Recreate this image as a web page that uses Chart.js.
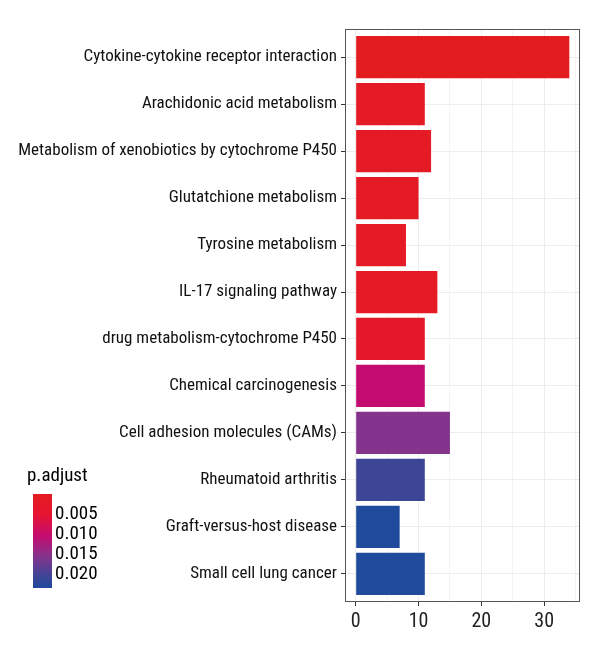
<!DOCTYPE html>
<html>
<head>
<meta charset="utf-8">
<script src="https://cdn.jsdelivr.net/npm/chart.js@4/dist/chart.umd.min.js"></script>
<style>
  html, body { margin: 0; padding: 0; background: #fff; }
  #wrap { width: 600px; height: 660px; position: relative; }
</style>
</head>
<body>
<div id="wrap"><canvas id="keggChart" width="600" height="660"></canvas></div>
<script>
// Data jalur KEGG (urutan dari atas ke bawah)
const pathways = [
  'Cytokine-cytokine receptor interaction',
  'Arachidonic acid metabolism',
  'Metabolism of xenobiotics by cytochrome P450',
  'Glutatchione metabolism',
  'Tyrosine metabolism',
  'IL-17 signaling pathway',
  'drug metabolism-cytochrome P450',
  'Chemical carcinogenesis',
  'Cell adhesion molecules (CAMs)',
  'Rheumatoid arthritis',
  'Graft-versus-host disease',
  'Small cell lung cancer'
];
const geneCounts = [34, 11, 12, 10, 8, 13, 11, 11, 15, 11, 7, 11];
const pAdjust = [0.0001, 0.0015, 0.0012, 0.0014, 0.0015, 0.0010, 0.0025, 0.0105, 0.0155, 0.0205, 0.0232, 0.0232];
const xTicks = [0, 10, 20, 30];
const legendTicks = [0.005, 0.010, 0.015, 0.020];

const FONT = '"Roboto Condensed", "DejaVu Sans Condensed", sans-serif';
const pMin = 0, pMax = 0.0233;

// Skala warna merah -> biru (mirip gradien ggplot)
const colorStops = [
  [0.00, [227, 28, 32]],
  [0.22, [230, 20, 50]],
  [0.45, [196, 12, 112]],
  [0.66, [134, 52, 140]],
  [0.86, [66, 68, 150]],
  [1.00, [31, 74, 155]]
];
function pColor(p) {
  const t = Math.min(1, Math.max(0, (p - pMin) / (pMax - pMin)));
  for (let i = 1; i < colorStops.length; i++) {
    if (t <= colorStops[i][0]) {
      const a = colorStops[i - 1], b = colorStops[i];
      const f = (t - a[0]) / (b[0] - a[0]);
      const c = a[1].map((v, k) => Math.round(v + (b[1][k] - v) * f));
      return `rgb(${c[0]},${c[1]},${c[2]})`;
    }
  }
  const c = colorStops[colorStops.length - 1][1];
  return `rgb(${c[0]},${c[1]},${c[2]})`;
}

// Border panel + legenda colorbar
const panelPlugin = {
  id: 'panel',
  afterDraw(chart) {
    const { ctx, chartArea: a } = chart;
    ctx.save();
    ctx.strokeStyle = '#555';
    ctx.lineWidth = 1;
    ctx.strokeRect(a.left + 0.5, a.top + 0.5, a.right - a.left - 1, a.bottom - a.top - 1);

    // colorbar
    const bx = 33, by = 494, bw = 19, bh = 94;
    const grad = ctx.createLinearGradient(0, by, 0, by + bh);
    for (let i = 0; i <= 20; i++) {
      grad.addColorStop(i / 20, pColor(pMin + (pMax - pMin) * i / 20));
    }
    ctx.fillStyle = grad;
    ctx.fillRect(bx, by, bw, bh);

    ctx.fillStyle = '#000';
    ctx.font = '19px ' + FONT;
    ctx.textBaseline = 'middle';
    ctx.textAlign = 'left';
    ctx.fillText('p.adjust', 27, 476);
    legendTicks.forEach(v => {
      const y = by + (v - pMin) / (pMax - pMin) * bh;
      ctx.fillText(v.toFixed(3), 55, y);
    });
    ctx.restore();
  }
};

const ctx = document.getElementById('keggChart').getContext('2d');
new Chart(ctx, {
  type: 'bar',
  data: {
    datasets: [{
      data: geneCounts.map((v, i) => ({ x: v, y: i })),
      backgroundColor: pAdjust.map(pColor),
      borderWidth: 0,
      categoryPercentage: 1,
      barPercentage: 0.9
    }]
  },
  options: {
    indexAxis: 'y',
    responsive: false,
    animation: false,
    layout: { padding: { top: 29, right: 20, left: 0, bottom: 0 } },
    plugins: { legend: { display: false }, tooltip: { enabled: false } },
    scales: {
      x: {
        type: 'linear',
        min: -1.7,
        max: 35.7,
        afterBuildTicks: s => { s.ticks = [0, 5, 10, 15, 20, 25, 30, 35].map(v => ({ value: v })); },
        afterFit: s => { s.height = 58; },
        border: { display: false },
        grid: {
          color: '#ececec',
          lineWidth: c => xTicks.includes(c.tick.value) ? 1 : 0.6,
          tickColor: c => xTicks.includes(c.tick.value) ? '#333' : 'rgba(0,0,0,0)',
          tickLength: 4
        },
        ticks: {
          autoSkip: false,
          maxRotation: 0,
          color: '#222',
          font: { family: FONT, size: 20 },
          padding: 4,
          callback: v => xTicks.includes(v) ? String(v) : ''
        }
      },
      y: {
        type: 'linear',
        min: -0.6,
        max: 11.6,
        reverse: true,
        offset: false,
        afterBuildTicks: s => { s.ticks = pathways.map((_, i) => ({ value: i })); },
        afterFit: s => { s.width = 345; },
        border: { display: false },
        grid: { offset: false, color: '#ececec', tickColor: '#333', tickLength: 4 },
        ticks: {
          autoSkip: false,
          color: '#111',
          font: { family: FONT, size: 17 },
          padding: 4,
          callback: v => pathways[v]
        }
      }
    }
  },
  plugins: [panelPlugin]
});
</script>
</body>
</html>
